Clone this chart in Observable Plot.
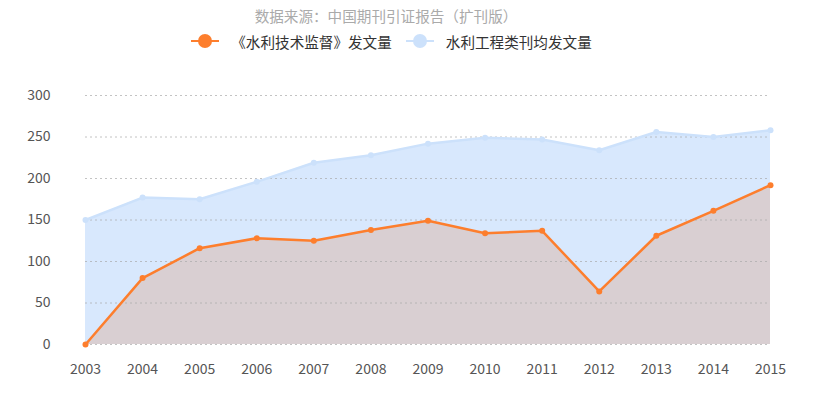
<!DOCTYPE html>
<html><head><meta charset="utf-8">
<script src="https://cdn.jsdelivr.net/npm/d3@7"></script>
<script src="https://cdn.jsdelivr.net/npm/@observablehq/plot@0.6"></script>
<style>
body{margin:0;background:#fff;font-family:"Noto Sans CJK SC","Noto Sans",sans-serif;}
#title{height:30px;line-height:32px;text-align:center;font-size:14.6px;color:#aaa;padding-right:45px;}
#legend{height:22px;display:flex;justify-content:center;align-items:center;font-size:14.6px;color:#333;padding-right:34px;padding-bottom:2px;}
.item{display:flex;align-items:center;margin:0 7px;}
.item svg{margin-right:12px;}
</style></head><body>
<div id="title">数据来源：中国期刊引证报告（扩刊版）</div>
<div id="legend"></div>
<div id="chart"></div>
<script>
const years = [2003,2004,2005,2006,2007,2008,2009,2010,2011,2012,2013,2014,2015];
const journal = [0,80,116,128,125,138,149,134,137,64,131,161,192];
const average = [150,177,175,196,219,228,242,249,247,234,256,250,258];
const seriesNames = ["《水利技术监督》发文量","水利工程类刊均发文量"];
const yTicks = [0,50,100,150,200,250,300];

const colors = {orange:"#fd7e2d", blue:"#cce1fb", blueFill:"#d8e8fd", overlap:"#d9cfd2"};

const legend = document.getElementById("legend");
[[seriesNames[0], colors.orange],[seriesNames[1], colors.blue]].forEach(([name,c])=>{
  const d = document.createElement("div"); d.className="item";
  d.innerHTML = `<svg width="28" height="16"><line x1="0" x2="28" y1="8" y2="8" stroke="${c}" stroke-width="2"/><circle cx="14" cy="8" r="7" fill="${c}"/></svg><span>${name}</span>`;
  legend.appendChild(d);
});

const data = years.map((y,i)=>({year:y, journal:journal[i], average:average[i]}));

const chart = Plot.plot({
  width: 817, height: 346,
  marginLeft: 85, marginRight: 47, marginTop: 41, marginBottom: 56,
  style: {fontFamily:'"Noto Sans CJK SC","Noto Sans",sans-serif', fontSize:"14px", color:"#555"},
  x: {domain:[2003,2015], label:null},
  y: {domain:[0,300], label:null},
  marks: [
    Plot.areaY(data,{x:"year", y:"average", fill:colors.blueFill}),
    Plot.areaY(data,{x:"year", y:"journal", fill:colors.overlap}),
    Plot.ruleY(yTicks,{stroke:"#aaa", strokeOpacity:0.7, strokeDasharray:"2,3"}),
    Plot.line(data,{x:"year", y:"average", stroke:colors.blue, strokeWidth:2.5}),
    Plot.dot(data,{x:"year", y:"average", fill:colors.blue, r:3}),
    Plot.line(data,{x:"year", y:"journal", stroke:colors.orange, strokeWidth:2.5}),
    Plot.dot(data,{x:"year", y:"journal", fill:colors.orange, r:3}),
    Plot.axisX({ticks: years, tickFormat: d=>String(d), tickSize:0, tickPadding:20, fontSize:14, fill:"#555"}),
    Plot.axisY({ticks: yTicks, tickSize:0, tickPadding:35, fontSize:14, fill:"#555"})
  ]
});
document.getElementById("chart").appendChild(chart);
</script>
</body></html>
